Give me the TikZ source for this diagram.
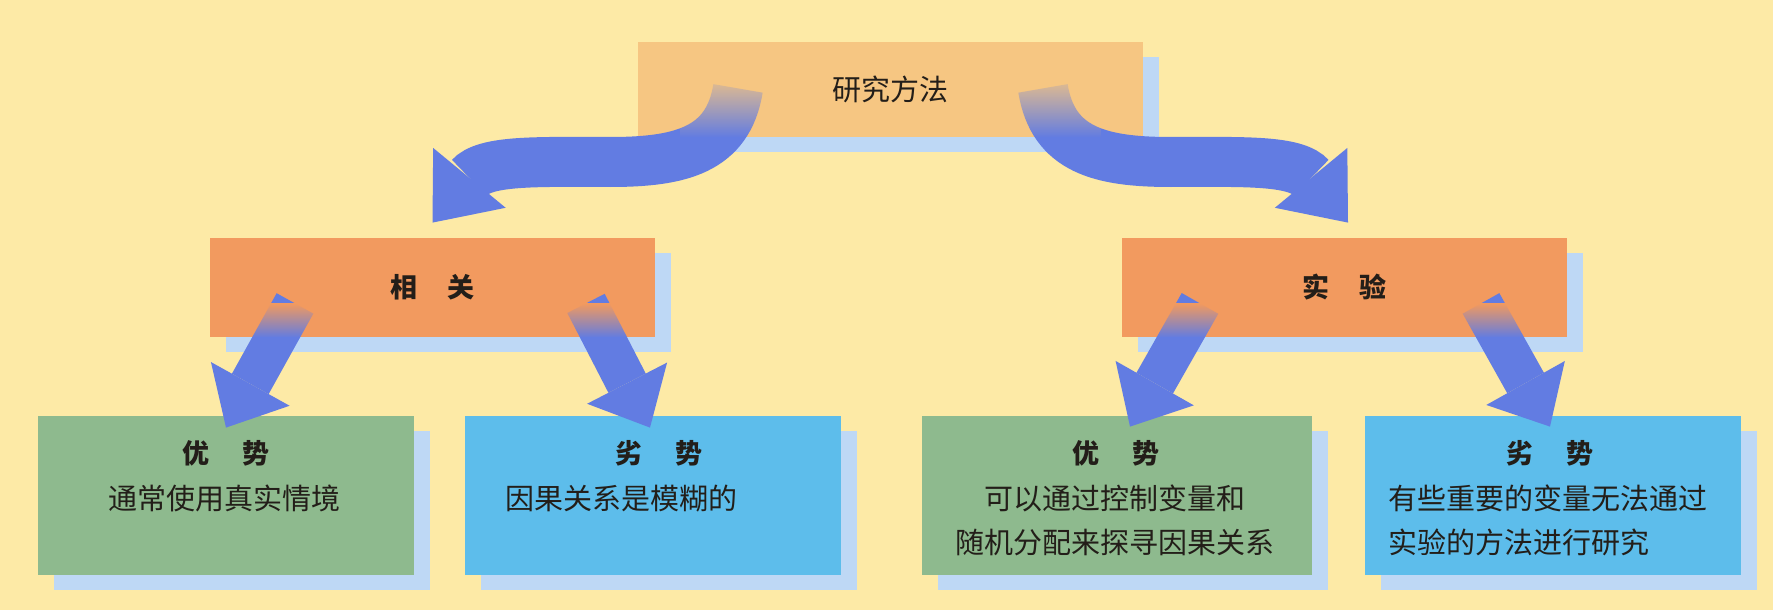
\documentclass[tikz,border=0pt]{standalone}
\usepackage{fontspec}
\setmainfont{Noto Sans CJK SC}
\usetikzlibrary{arrows.meta,calc,shadows,fadings}

\definecolor{paper}{RGB}{253,234,166}
\definecolor{methodfill}{RGB}{246,198,130}
\definecolor{classfill}{RGB}{242,154,95}
\definecolor{profill}{RGB}{142,186,142}
\definecolor{confill}{RGB}{93,189,235}
\definecolor{shadowblue}{RGB}{190,216,245}
\definecolor{arrowblue}{RGB}{98,124,226}
\definecolor{ink}{RGB}{35,30,25}

\tikzset{
  boxshadow/.style={drop shadow={shadow xshift=8pt,shadow yshift=-7.5pt,fill=shadowblue,opacity=1}},
  methodbox/.style={boxshadow, fill=methodfill, minimum width=252.5pt, minimum height=47.5pt, inner sep=0pt,
    text=ink, font=\fontsize{14.5}{17}\selectfont},
  classbox/.style={boxshadow, fill=classfill, minimum width=222.5pt, minimum height=49.5pt, inner sep=0pt,
    text=ink, font=\fontsize{13.5}{16}\selectfont\bfseries},
  lowbox/.style={boxshadow, minimum width=188pt, minimum height=79.5pt, inner sep=0pt},
  headtext/.style={anchor=base, inner sep=0pt, text=ink, font=\fontsize{13.5}{16}\selectfont\bfseries},
  bodytext/.style={anchor=base, inner sep=0pt, text=ink, font=\fontsize{14.5}{22}\selectfont},
  bendarrow/.style={color=arrowblue, line width=25pt, -{Triangle[width=47pt,length=29pt,line width=0pt]}},
  droparrow/.style={color=arrowblue, line width=21pt, -{Triangle[width=45pt,length=25pt,line width=0pt]}}
}

\begin{document}
\begin{tikzpicture}[x=0.5pt,y=-0.5pt]
  \fill[paper] (0,0) rectangle (1773,610);
  \useasboundingbox (0,0) rectangle (1773,610);

  \node[methodbox] (method) at (890.5,89.5) {研究方法};
  \node[classbox] (corr) at (432.5,287.5) {相\hspace{1.1em}关};
  \node[classbox] (exp) at (1344.5,287.5) {实\hspace{1.1em}验};
  \node[lowbox, fill=profill] (corrpro) at (226,495.5) {};
  \node[lowbox, fill=confill] (corrcon) at (653,495.5) {};
  \node[lowbox, fill=profill, minimum width=195pt] (exppro) at (1117,495.5) {};
  \node[lowbox, fill=confill] (expcon) at (1553,495.5) {};

  \coordinate (lbend) at (610,162);
  \coordinate (rbend) at (1171,162);
  \draw[bendarrow] ($(method.south)+(-152.5,-49)$) .. controls +(-10,62) and +(70,0) .. (lbend)
    .. controls +(-70,0) and +(52,-63) .. ($(corr.north)+(0,-15)$);
  \draw[bendarrow] ($(method.south)+(152.5,-49)$) .. controls +(10,62) and +(-70,0) .. (rbend)
    .. controls +(70,0) and +(-52,-63) .. ($(exp.north)+(3.5,-15)$);
  \path[droparrow]
    ($(corr.south)+(-137.5,-34)$) edge ($(corrpro.north)+(0,12)$)
    ($(corr.south)+(153.5,-34)$) edge ($(corrcon.north)+(-3,12)$)
    ($(exp.south)+(-144.5,-34)$) edge ($(exppro.north)+(13,11)$)
    ($(exp.south)+(136.5,-34)$) edge ($(expcon.north)+(-3,11)$);
  % arrows fade into the boxes they leave
  \fill[methodfill, path fading=south] ($(method.south west)+(42,-65)$) rectangle ($(method.south west)+(162,0)$);
  \fill[methodfill, path fading=south] ($(method.south east)+(-162,-65)$) rectangle ($(method.south east)+(-42,0)$);
  \fill[classfill, path fading=south] ($(corr.south west)+(0,-34)$) rectangle (corr.south east);
  \fill[classfill, path fading=south] ($(exp.south west)+(0,-34)$) rectangle (exp.south east);

  \node[headtext] (corrprohead) at ($(corrpro.north)+(0,48)$) {优\hspace{1.2em}势};
  \node[bodytext] (corrprotext) at ($(corrpro.north)+(-2,94)$) {通常使用真实情境};
  \node[headtext] (corrconhead) at ($(corrcon.north)+(6,48)$) {劣\hspace{1.2em}势};
  \node[bodytext, anchor=base west] (corrcontext) at ($(corrcon.north west)+(40,94)$) {因果关系是模糊的};
  \node[headtext] (expprohead) at ($(exppro.north)+(-1,48)$) {优\hspace{1.2em}势};
  \node[bodytext] (expprotext) at ($(exppro.north)+(-2,94)$)
    {\begin{tabular}[t]{@{}c@{}}可以通过控制变量和\\随机分配来探寻因果关系\end{tabular}};
  \node[headtext] (expconhead) at ($(expcon.north)+(-3,48)$) {劣\hspace{1.2em}势};
  \node[bodytext, anchor=base west] (expcontext) at ($(expcon.north west)+(23,94)$)
    {\begin{tabular}[t]{@{}l@{}}有些重要的变量无法通过\\实验的方法进行研究\end{tabular}};
\end{tikzpicture}
\end{document}
